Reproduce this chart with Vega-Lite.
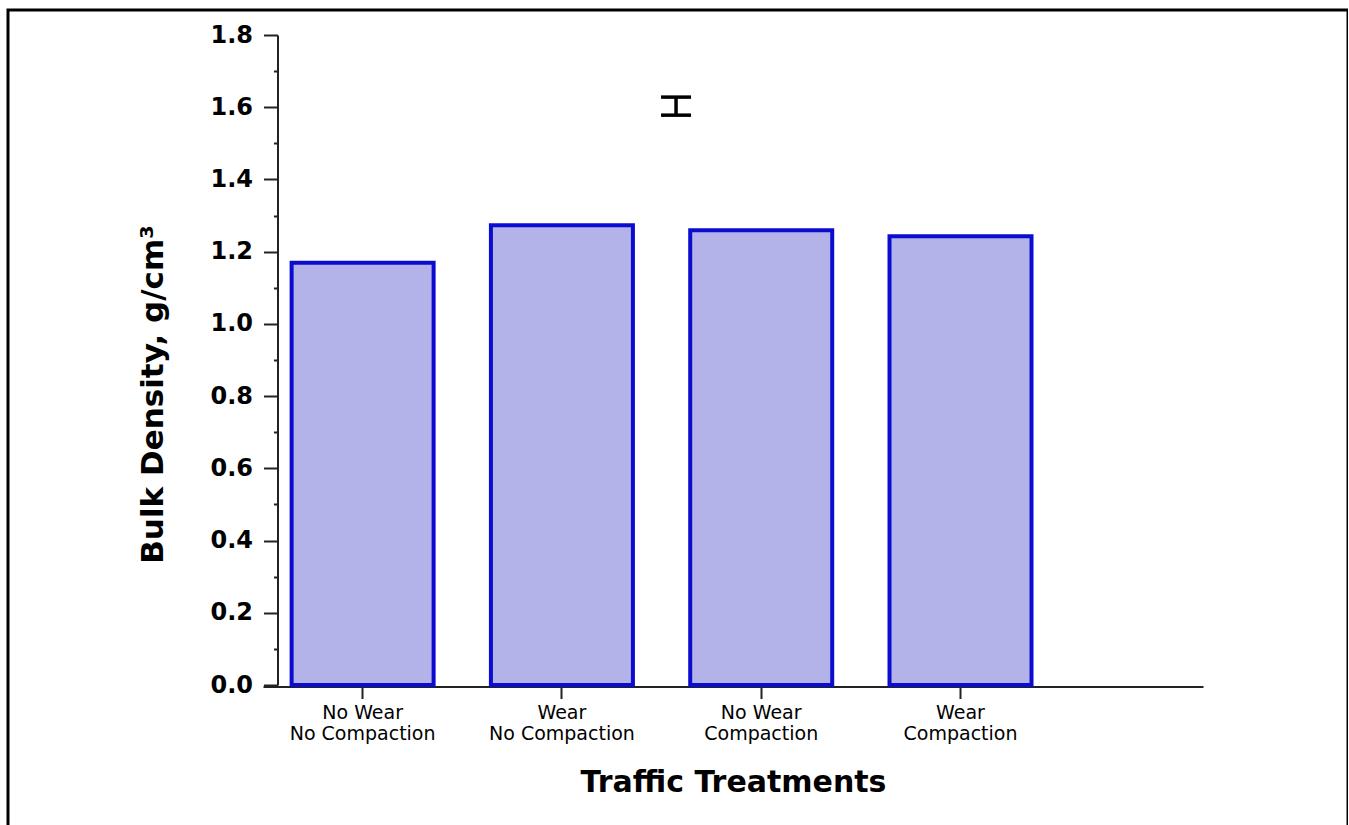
{
  "$schema": "https://vega.github.io/schema/vega-lite/v6.json",
  "autosize": {"type": "none"},
  "padding": {"left": 8, "top": 10, "right": 0, "bottom": 0},
  "width": 1340,
  "height": 830,
  "background": "white",
  "config": {
    "view": {"stroke": "black", "strokeWidth": 3},
    "axis": {
      "labelFont": "DejaVu Sans",
      "titleFont": "DejaVu Sans",
      "labelColor": "black",
      "titleColor": "black",
      "domainColor": "#222222",
      "domainWidth": 2,
      "tickColor": "#222222",
      "tickWidth": 2,
      "grid": false
    }
  },
  "layer": [
    {
      "data": {
        "values": [
          {"treatment": "No Wear, No Compaction", "density": 1.169},
          {"treatment": "Wear, No Compaction", "density": 1.273},
          {"treatment": "No Wear, Compaction", "density": 1.259},
          {"treatment": "Wear, Compaction", "density": 1.243}
        ]
      },
      "mark": {"type": "bar", "fill": "#b3b3ea", "stroke": "#0c0cd0", "strokeWidth": 4},
      "encoding": {
        "x": {
          "field": "treatment",
          "type": "nominal",
          "sort": null,
          "scale": {"range": [255, 1195], "paddingInner": 0.2875, "paddingOuter": 0.502, "align": 0.143},
          "axis": {
            "orient": "bottom",
            "offset": -153.5,
            "labelAngle": 0,
            "labelExpr": "split(datum.value, ', ')",
            "labelFontSize": 19,
            "labelLineHeight": 21,
            "labelPadding": 5,
            "tickSize": 12,
            "title": "Traffic Treatments",
            "titleFontSize": 30,
            "titleFontWeight": "bold",
            "titlePadding": 24
          }
        },
        "y": {
          "field": "density",
          "type": "quantitative",
          "title": "Bulk Density, g/cm³",
          "scale": {"domain": [0, 1.8], "range": [675, 25], "nice": false, "zero": true},
          "axis": {
            "orient": "left",
            "offset": -269.5,
            "values": [0, 0.1, 0.2, 0.3, 0.4, 0.5, 0.6, 0.7, 0.8, 0.9, 1.0, 1.1, 1.2, 1.3, 1.4, 1.5, 1.6, 1.7, 1.8],
            "labelExpr": "round(datum.value * 10) % 2 === 0 ? format(datum.value, '.1f') : ''",
            "tickSize": {"condition": {"test": "round(datum.value * 10) % 2 === 0", "value": 14}, "value": 4},
            "labelFontSize": 24,
            "labelFontWeight": "bold",
            "labelPadding": 11,
            "title": "Bulk Density, g/cm³",
            "titleFontSize": 31,
            "titleFontWeight": "bold",
            "titlePadding": 40,
            "titleY": 384
          }
        }
      }
    },
    {
      "data": {"values": [{"position": 2.574, "lo": 1.578, "hi": 1.628}]},
      "mark": {
        "type": "errorbar",
        "color": "black",
        "opacity": 1,
        "ticks": {"size": 30, "thickness": 3.5, "color": "black", "opacity": 1},
        "rule": {"strokeWidth": 3.5, "color": "black", "opacity": 1}
      },
      "encoding": {
        "x": {
          "field": "position",
          "type": "quantitative",
          "scale": {"domain": [0.5, 5.22], "range": [255, 1195], "nice": false, "zero": false},
          "axis": null
        },
        "y": {"field": "lo", "type": "quantitative", "title": "Bulk Density, g/cm³"},
        "y2": {"field": "hi"}
      }
    }
  ],
  "resolve": {"scale": {"x": "independent"}, "axis": {"x": "independent"}}
}
